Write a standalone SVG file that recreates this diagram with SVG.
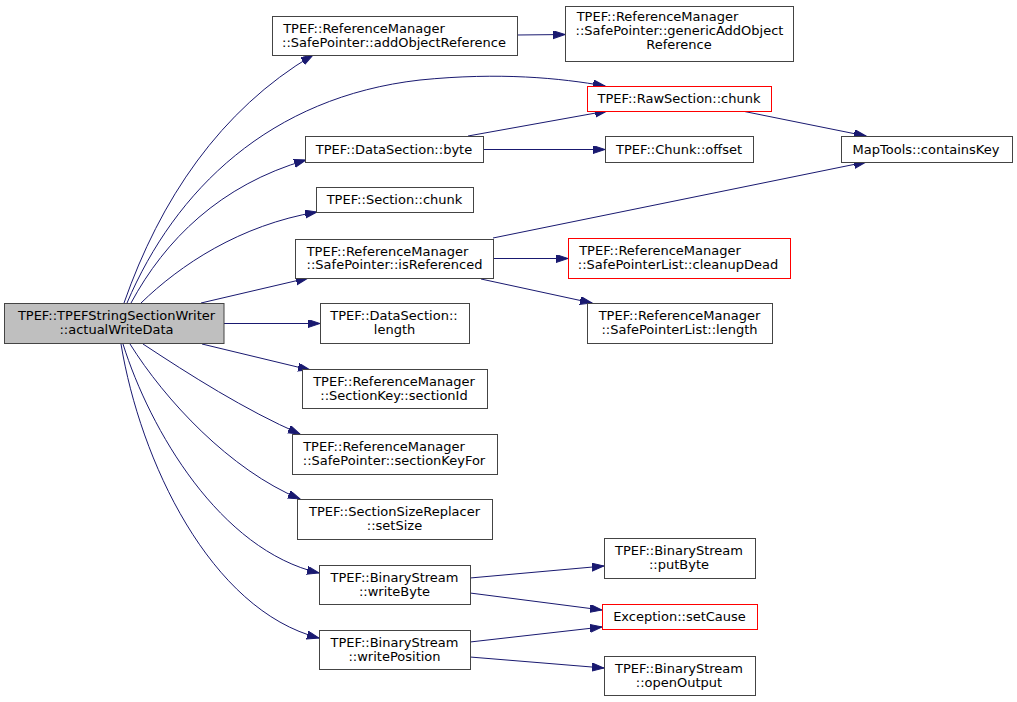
<svg xmlns="http://www.w3.org/2000/svg" width="1017" height="702" viewBox="0 0 1017 702">
<defs>
<marker id="arr" markerUnits="userSpaceOnUse" markerWidth="13" markerHeight="9" refX="12" refY="4" orient="auto">
<path d="M0,0 L12,4 L0,8 z" fill="#191970" stroke="#191970" stroke-width="1"/>
</marker>
<style>
.n rect{fill:#fff;stroke:#444;stroke-width:1}
.n.red rect{stroke:#ff0000}
.n.main rect{fill:#bfbfbf}
.n text{font-family:"DejaVu Sans",sans-serif;font-size:13px;fill:#000;text-anchor:middle}
.e path{fill:none;stroke:#191970;stroke-width:1;marker-end:url(#arr)}
</style>
</defs>
<rect width="1017" height="702" fill="#fff"/>
<g id="edges" class="e">
<path d="M124,303 C160,200 220,110 313,55"/>
<path d="M127,303 C175,190 270,97 420,80 C500,72 560,78 605,86"/>
<path d="M131,303 C165,240 220,185 306,160"/>
<path d="M141,303 C180,265 240,225 317,212"/>
<path d="M201,303 L308,278"/>
<path d="M224,323.5 L320,323.5"/>
<path d="M202,344 L310,370"/>
<path d="M143,344 C190,375 245,410 300,434"/>
<path d="M130,344 C165,400 230,470 300,499"/>
<path d="M123,344 C150,430 220,550 319,573"/>
<path d="M121,344 C140,460 210,610 319,638"/>
<path d="M517,35 L565,34.5"/>
<path d="M468,136 L607,111"/>
<path d="M483,149.5 L605,149.5"/>
<path d="M742,111 L866,136"/>
<path d="M493,238 L866,162"/>
<path d="M493,258.5 L568,258.5"/>
<path d="M481,279 L592,303"/>
<path d="M470,578 L604,566"/>
<path d="M470,593 L602,610"/>
<path d="M470,642 L602,627"/>
<path d="M470,657 L604,668"/>
</g>
<g id="n_main" class="n main"><rect x="4.5" y="303.5" width="219.5" height="40"/><text x="116.5" y="319.5">TPEF::TPEFStringSectionWriter</text><text x="116.5" y="334">::actualWriteData</text></g>
<g id="n_addObjRef" class="n"><rect x="272.5" y="16.5" width="245" height="39"/><text x="364" y="32.5">TPEF::ReferenceManager</text><text x="394" y="46.5">::SafePointer::addObjectReference</text></g>
<g id="n_genericAdd" class="n"><rect x="565.5" y="6.5" width="228" height="55"/><text x="657.5" y="21">TPEF::ReferenceManager</text><text x="679.5" y="35">::SafePointer::genericAddObject</text><text x="679" y="49">Reference</text></g>
<g id="n_rawChunk" class="n red"><rect x="587.5" y="86.5" width="184" height="25"/><text x="679" y="103">TPEF::RawSection::chunk</text></g>
<g id="n_offset" class="n"><rect x="605.5" y="136.5" width="148" height="26"/><text x="679" y="153.5">TPEF::Chunk::offset</text></g>
<g id="n_containsKey" class="n"><rect x="841.5" y="136.5" width="171" height="26"/><text x="926" y="153.5">MapTools::containsKey</text></g>
<g id="n_byte" class="n"><rect x="305.5" y="136.5" width="178" height="26"/><text x="394" y="153.5">TPEF::DataSection::byte</text></g>
<g id="n_sectionChunk" class="n"><rect x="316.5" y="187.5" width="157" height="25"/><text x="394.5" y="204">TPEF::Section::chunk</text></g>
<g id="n_isReferenced" class="n"><rect x="295.5" y="239.5" width="198" height="39"/><text x="387.5" y="255.5">TPEF::ReferenceManager</text><text x="394.5" y="269">::SafePointer::isReferenced</text></g>
<g id="n_dsLength" class="n"><rect x="320.5" y="303.5" width="149" height="40"/><text x="394" y="319.5">TPEF::DataSection::</text><text x="394.5" y="333.5">length</text></g>
<g id="n_sectionId" class="n"><rect x="302.5" y="369.5" width="185" height="39"/><text x="394" y="385.5">TPEF::ReferenceManager</text><text x="394" y="399.5">::SectionKey::sectionId</text></g>
<g id="n_sectionKeyFor" class="n"><rect x="292.5" y="434.5" width="205" height="40"/><text x="384" y="450.5">TPEF::ReferenceManager</text><text x="394" y="464.5">::SafePointer::sectionKeyFor</text></g>
<g id="n_setSize" class="n"><rect x="297.5" y="499.5" width="195" height="40"/><text x="394.5" y="515.5">TPEF::SectionSizeReplacer</text><text x="394.5" y="529.5">::setSize</text></g>
<g id="n_writeByte" class="n"><rect x="319.5" y="565.5" width="151" height="39"/><text x="394.5" y="581.5">TPEF::BinaryStream</text><text x="394.5" y="595.5">::writeByte</text></g>
<g id="n_writePosition" class="n"><rect x="319.5" y="630.5" width="151" height="39"/><text x="394.5" y="646.5">TPEF::BinaryStream</text><text x="394.5" y="660.5">::writePosition</text></g>
<g id="n_putByte" class="n"><rect x="604.5" y="538.5" width="151" height="40"/><text x="679" y="554.5">TPEF::BinaryStream</text><text x="679" y="568.5">::putByte</text></g>
<g id="n_setCause" class="n red"><rect x="602.5" y="604.5" width="155" height="25"/><text x="679.5" y="621">Exception::setCause</text></g>
<g id="n_openOutput" class="n"><rect x="604.5" y="656.5" width="151" height="39"/><text x="679" y="672.5">TPEF::BinaryStream</text><text x="679" y="686.5">::openOutput</text></g>
<g id="n_cleanupDead" class="n red"><rect x="568.5" y="238.5" width="222" height="40"/><text x="660" y="254.5">TPEF::ReferenceManager</text><text x="678" y="268.5">::SafePointerList::cleanupDead</text></g>
<g id="n_splLength" class="n"><rect x="587.5" y="303.5" width="185" height="40"/><text x="679.5" y="319.5">TPEF::ReferenceManager</text><text x="679.5" y="333.5">::SafePointerList::length</text></g>
</svg>
